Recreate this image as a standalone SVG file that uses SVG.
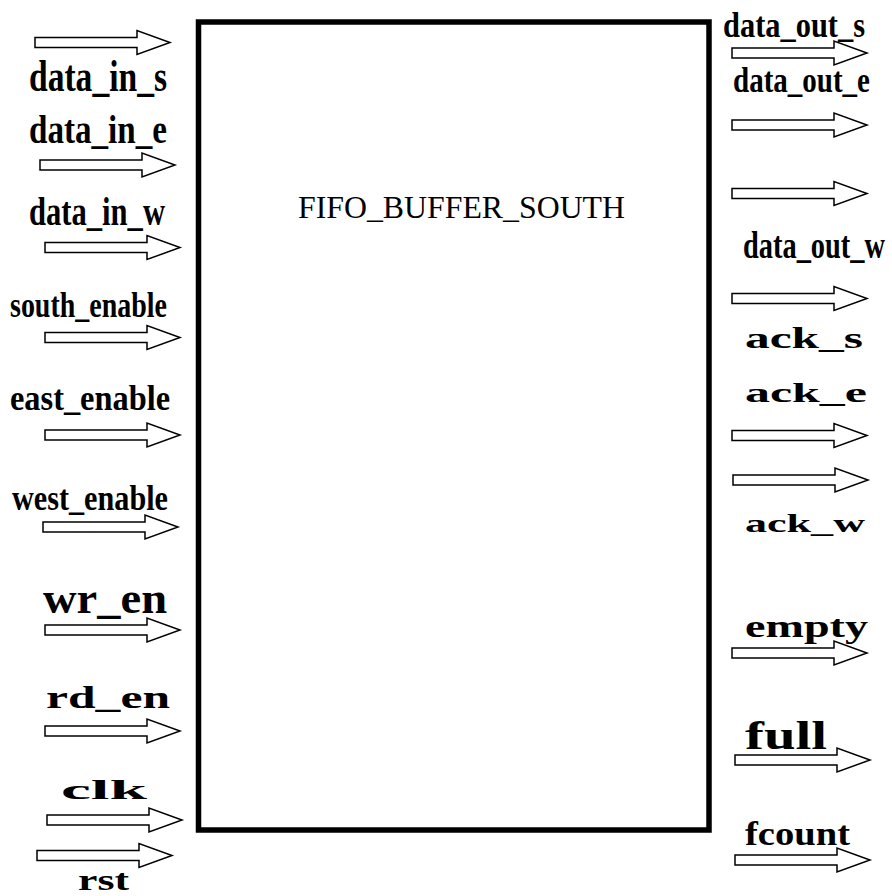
<svg xmlns="http://www.w3.org/2000/svg" xmlns:xlink="http://www.w3.org/1999/xlink" width="892" height="896" viewBox="0 0 892 896">
<style>
.blk{fill:#fff;stroke:#000;stroke-width:5.5}
.arr{fill:#fff;stroke:#000;stroke-width:1.5;stroke-linejoin:miter}
.lbl{font-family:"Liberation Serif","Times New Roman",serif;font-weight:bold;fill:#000}
.ttl{font-family:"Liberation Serif","Times New Roman",serif;font-size:32px;fill:#000}
</style>
<defs>
<path id="ar" class="arr" d="M-135,-5 H-33 V-12 L0,0 L-33,12 V5 H-135 Z"/>
</defs>
<rect width="892" height="896" fill="#fff"/>
<g id="fifo_buffer_south">
<rect class="blk" x="198.5" y="22" width="510.5" height="808"/>
<text class="ttl" x="298" y="218" textLength="327" lengthAdjust="spacingAndGlyphs">FIFO_BUFFER_SOUTH</text>
</g>
<g id="connectors">
<use xlink:href="#ar" transform="translate(170,42.5)"/>
<use xlink:href="#ar" transform="translate(175,165)"/>
<use xlink:href="#ar" transform="translate(180,247.5)"/>
<use xlink:href="#ar" transform="translate(180,337.5)"/>
<use xlink:href="#ar" transform="translate(180,435)"/>
<use xlink:href="#ar" transform="translate(178,527)"/>
<use xlink:href="#ar" transform="translate(180,630)"/>
<use xlink:href="#ar" transform="translate(180,731)"/>
<use xlink:href="#ar" transform="translate(182,820)"/>
<use xlink:href="#ar" transform="translate(172,855.5)"/>
<use xlink:href="#ar" transform="translate(867,53)"/>
<use xlink:href="#ar" transform="translate(867,125)"/>
<use xlink:href="#ar" transform="translate(867,193.5)"/>
<use xlink:href="#ar" transform="translate(867,298.5)"/>
<use xlink:href="#ar" transform="translate(867,435.5)"/>
<use xlink:href="#ar" transform="translate(868,480)"/>
<use xlink:href="#ar" transform="translate(867,653)"/>
<use xlink:href="#ar" transform="translate(870,760)"/>
<use xlink:href="#ar" transform="translate(870,860)"/>
</g>
<g id="port_data_in_s"><text class="lbl" x="29" y="91" font-size="44" textLength="138" lengthAdjust="spacingAndGlyphs">data_in_s</text></g>
<g id="port_data_in_e"><text class="lbl" x="29" y="143" font-size="41" textLength="138" lengthAdjust="spacingAndGlyphs">data_in_e</text></g>
<g id="port_data_in_w"><text class="lbl" x="29" y="225" font-size="41" textLength="136" lengthAdjust="spacingAndGlyphs">data_in_w</text></g>
<g id="port_south_enable"><text class="lbl" x="10" y="317" font-size="35" textLength="157" lengthAdjust="spacingAndGlyphs">south_enable</text></g>
<g id="port_east_enable"><text class="lbl" x="10" y="410" font-size="35" textLength="160" lengthAdjust="spacingAndGlyphs">east_enable</text></g>
<g id="port_west_enable"><text class="lbl" x="12" y="510" font-size="35" textLength="156" lengthAdjust="spacingAndGlyphs">west_enable</text></g>
<g id="port_wr_en"><text class="lbl" x="43" y="613" font-size="44" textLength="124" lengthAdjust="spacingAndGlyphs">wr_en</text></g>
<g id="port_rd_en"><text class="lbl" x="46" y="708" font-size="32" textLength="124" lengthAdjust="spacingAndGlyphs">rd_en</text></g>
<g id="port_clk"><text class="lbl" x="61" y="799" font-size="28" textLength="86" lengthAdjust="spacingAndGlyphs">clk</text></g>
<g id="port_rst"><text class="lbl" x="78" y="890" font-size="30" textLength="51" lengthAdjust="spacingAndGlyphs">rst</text></g>
<g id="port_data_out_s"><text class="lbl" transform="translate(723,37) scale(1,1.21)" x="0" y="0" font-size="30.4" textLength="142" lengthAdjust="spacingAndGlyphs">data_out_s</text></g>
<g id="port_data_out_e"><text class="lbl" transform="translate(733,92) scale(1,1.21)" x="0" y="0" font-size="29" textLength="137" lengthAdjust="spacingAndGlyphs">data_out_e</text></g>
<g id="port_data_out_w"><text class="lbl" transform="translate(743,258) scale(1,1.3)" x="0" y="0" font-size="28.4" textLength="142" lengthAdjust="spacingAndGlyphs">data_out_w</text></g>
<g id="port_ack_s"><text class="lbl" x="745" y="348" font-size="29" textLength="118" lengthAdjust="spacingAndGlyphs">ack_s</text></g>
<g id="port_ack_e"><text class="lbl" x="745" y="402" font-size="28" textLength="122" lengthAdjust="spacingAndGlyphs">ack_e</text></g>
<g id="port_ack_w"><text class="lbl" x="745" y="532" font-size="26" textLength="120" lengthAdjust="spacingAndGlyphs">ack_w</text></g>
<g id="port_empty"><text class="lbl" x="745" y="637" font-size="32" textLength="123" lengthAdjust="spacingAndGlyphs">empty</text></g>
<g id="port_full"><text class="lbl" x="745" y="749" font-size="40" textLength="82" lengthAdjust="spacingAndGlyphs">full</text></g>
<g id="port_fcount"><text class="lbl" x="745" y="845" font-size="34" textLength="105" lengthAdjust="spacingAndGlyphs">fcount</text></g>
</svg>
